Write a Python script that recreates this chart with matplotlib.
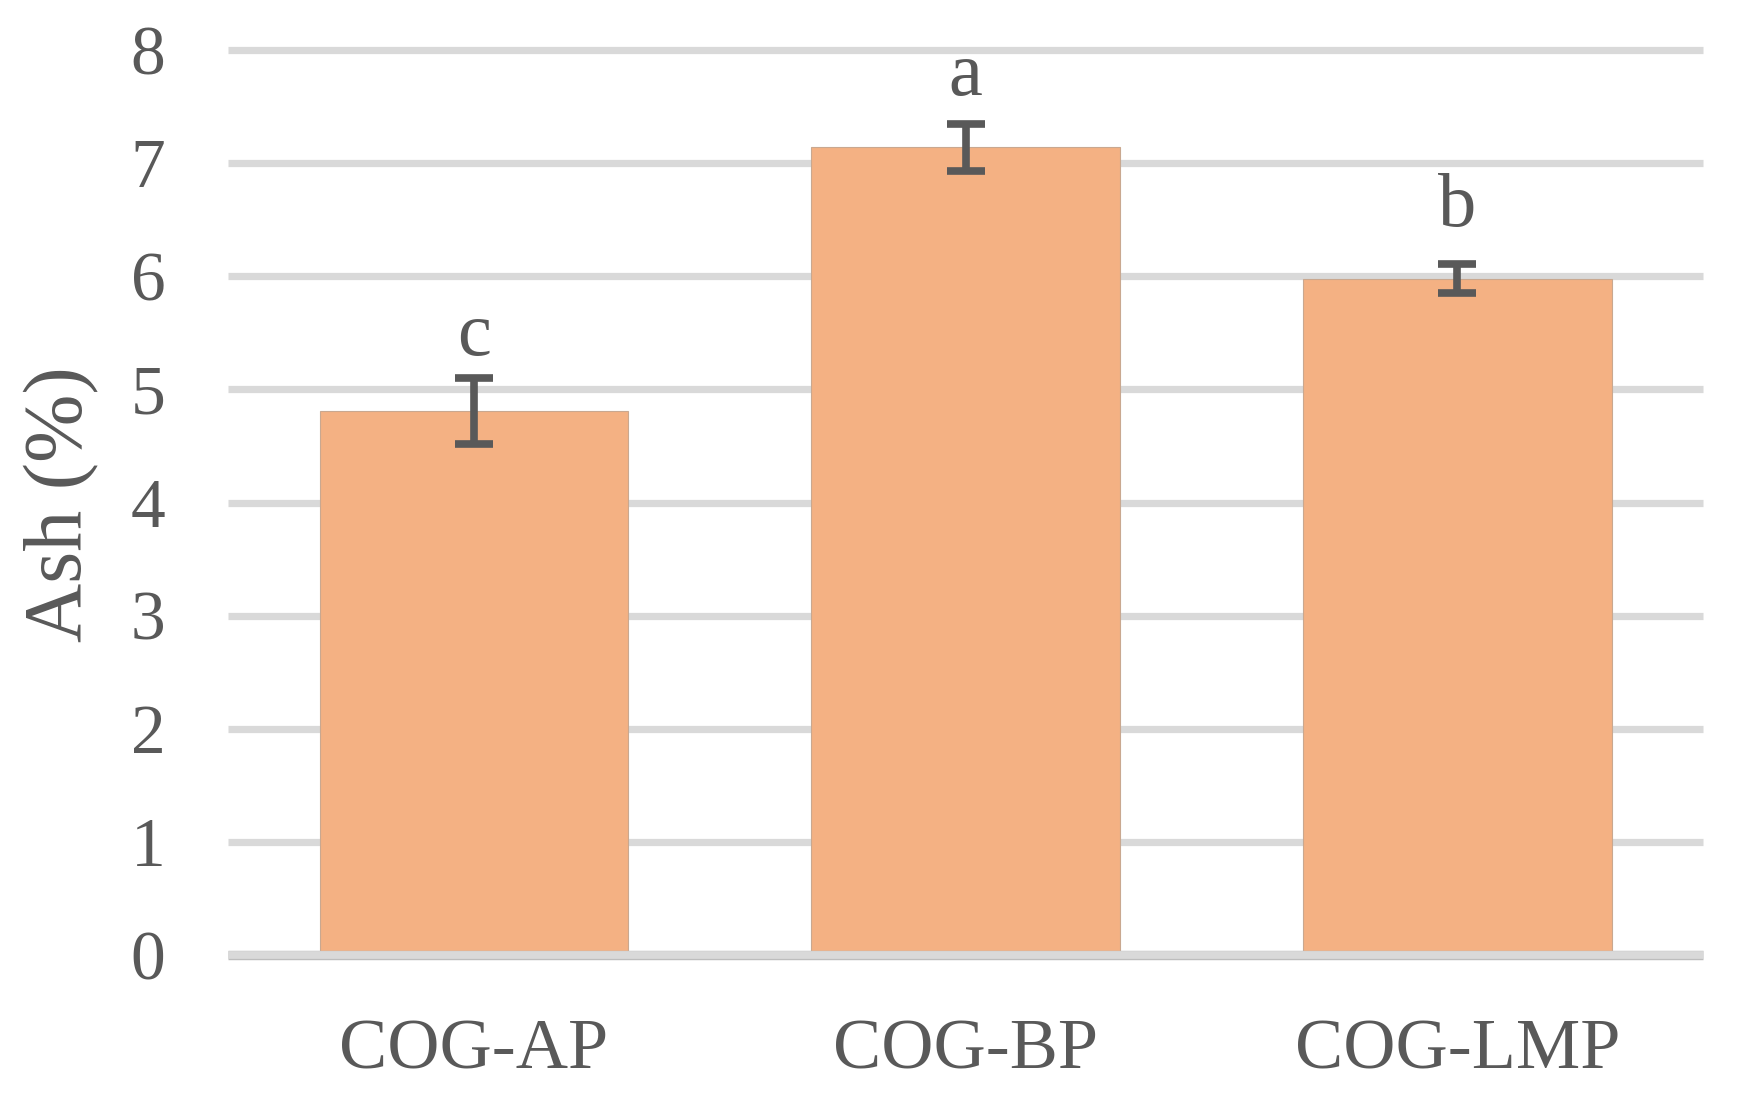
import matplotlib
matplotlib.use("Agg")
import matplotlib.pyplot as plt
import matplotlib.patheffects as pe

categories = ["COG-AP", "COG-BP", "COG-LMP"]
ash = [4.81, 7.14, 5.98]
ash_err = [0.29, 0.21, 0.13]
letters = ["c", "a", "b"]
yticks = [0, 1, 2, 3, 4, 5, 6, 7, 8]

text_col = "#595959"
plt.rcParams["font.family"] = ["Liberation Serif", "DejaVu Serif"]

fig = plt.figure(figsize=(17.37, 10.96), dpi=100)
ax = fig.add_axes([0.1313, 0.1286, 0.8492, 0.8258])

x = list(range(len(categories)))

# gridlines (drawn by hand so the top one is not clipped)
for t in yticks[1:]:
    ax.axhline(t, color="#d9d9d9", lw=5.2, zorder=0, clip_on=False,
               solid_capstyle="butt")

ax.bar(x, ash, width=0.628, color="#f4b183", edgecolor="#c9a890",
       linewidth=0.8, zorder=2)
ax.errorbar(x, ash, yerr=ash_err, fmt="none", ecolor=text_col,
            elinewidth=5.5, capsize=13.5, capthick=5.5, zorder=4)

# zero line
ax.axhline(0, color="#d9d9d9", lw=5.6, zorder=3, clip_on=False,
           solid_capstyle="butt",
           path_effects=[pe.Stroke(linewidth=6.8, foreground="#bdbdbd"), pe.Normal()])

# letter offsets above the error bar
offs = [0.2, 0.25, 0.33]
for xi, v, e, s, o in zip(x, ash, ash_err, letters, offs):
    ax.text(xi, v + e + o, s, ha="center", va="baseline",
            fontsize=55, color=text_col)

ax.set_xlim(-0.5, 2.5)
ax.set_ylim(0, 8)
ax.set_yticks(yticks)
ax.set_xticks(x)
ax.set_xticklabels(categories)
ax.tick_params(axis="y", length=0, pad=45, labelsize=50, labelcolor=text_col)
ax.tick_params(axis="x", length=0, pad=46, labelsize=52, labelcolor=text_col)
for sp in ax.spines.values():
    sp.set_visible(False)

fig.text(62 / 1737, 1 - 504 / 1096, "Ash (%)", rotation=90, ha="center",
         va="center", fontsize=59, color=text_col)

fig.savefig("out.png", dpi=100, facecolor="white")
